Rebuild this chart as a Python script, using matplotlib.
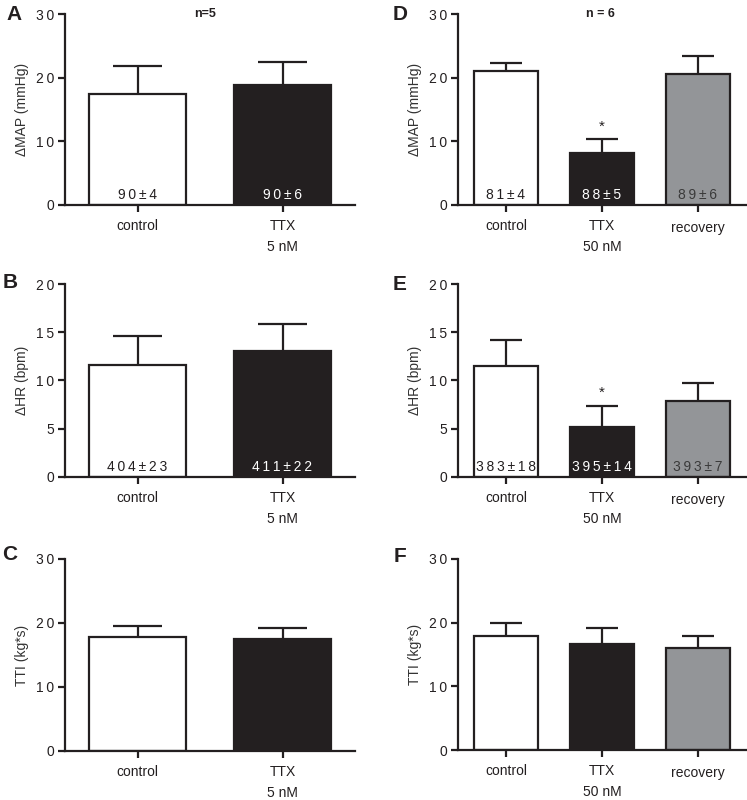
import matplotlib
matplotlib.use("Agg")
import matplotlib.pyplot as plt

plt.rcParams['font.family'] = ['Liberation Sans', 'DejaVu Sans']

INK = '#231f20'
GRAY = '#939598'
TS = '\u2009'

# ---------------- data ----------------
cats_left = ['control', 'TTX\n5 nM']
cats_right = ['control', 'TTX\n50 nM', 'recovery']

map_left = [17.4, 18.9]
map_left_err = [4.5, 3.6]
map_left_txt = ['90±4', '90±6']

map_right = [21.1, 8.2, 20.6]
map_right_err = [1.25, 2.2, 2.85]
map_right_txt = ['81±4', '88±5', '89±6']

hr_left = [11.6, 13.1]
hr_left_err = [3.05, 2.8]
hr_left_txt = ['404±23', '411±22']

hr_right = [11.5, 5.2, 7.85]
hr_right_err = [2.7, 2.2, 1.85]
hr_right_txt = ['383±18', '395±14', '393±7']

tti_left = [17.8, 17.45]
tti_left_err = [1.8, 1.75]

tti_right = [17.85, 16.7, 16.05]
tti_right_err = [2.05, 2.5, 1.85]

map_ticks = [0, 10, 20, 30]
hr_ticks = [0, 5, 10, 15, 20]
tti_ticks = [0, 10, 20, 30]

sig_right = [False, True, False]

fill_left = ['white', INK]
fill_right = ['white', INK, GRAY]
txt_col_left = [INK, 'white']
txt_col_right = [INK, 'white', '#3a3a3a']

# ---------------- figure ----------------
W, H = 747, 800
fig = plt.figure(figsize=(W / 100, H / 100), dpi=100)


def px_axes(x0, x1, ytop, ybot):
    return fig.add_axes([x0 / W, 1 - ybot / H, (x1 - x0) / W, (ybot - ytop) / H])


def spaced(s):
    return TS.join(list(s))


def panel(ax, cats, vals, errs, fills, ticks, ylabel, inner=None, inner_col=None, sig=None):
    n = len(cats)
    xs = list(range(n))
    bw = 0.67
    ax.bar(xs, vals, width=bw, color=fills, edgecolor=INK, linewidth=1.6, zorder=2)
    ax.vlines(xs, vals, [v + e for v, e in zip(vals, errs)], color=INK, linewidth=1.6, zorder=1)
    ax.hlines([v + e for v, e in zip(vals, errs)], [x - bw / 4 for x in xs], [x + bw / 4 for x in xs],
              color=INK, linewidth=1.6, zorder=1)
    ax.set_xlim(-0.5, n - 0.5)
    ax.set_ylim(0, ticks[-1])
    ax.set_yticks(ticks)
    ax.set_yticklabels([spaced(str(t)) for t in ticks])
    ax.set_xticks(xs)
    # 'recovery' sits a little lower in the reference: drawn separately
    ax.set_xticklabels(['' if c == 'recovery' else c for c in cats], linespacing=1.65)
    for x, c in zip(xs, cats):
        if c == 'recovery':
            ax.annotate(c, xy=(x, 0), xytext=(0, -11.5), textcoords='offset points',
                        ha='center', va='top', fontsize=10, color=INK, annotation_clip=False)
    for s in ['top', 'right']:
        ax.spines[s].set_visible(False)
    for s in ['left', 'bottom']:
        ax.spines[s].set_linewidth(1.6)
        ax.spines[s].set_color(INK)
    ax.tick_params(axis='both', length=5, width=1.6, color=INK, labelcolor=INK, labelsize=10)
    ax.tick_params(axis='y', pad=3)
    ax.tick_params(axis='x', pad=5)
    ax.set_ylabel(ylabel, fontsize=10, color='#333333', labelpad=5)
    if inner:
        for x, t, c in zip(xs, inner, inner_col):
            ax.annotate(spaced(t), xy=(x, 0), xytext=(0, 2), textcoords='offset points',
                        ha='center', va='bottom', fontsize=10, color=c, zorder=3)
    if sig:
        for x, v, e, s in zip(xs, vals, errs, sig):
            if s:
                ax.annotate('*', xy=(x, v + e), xytext=(0, 9), textcoords='offset points',
                            ha='center', va='center', fontsize=11, color=INK)


axA = px_axes(65, 355, 14, 205)
axB = px_axes(65, 355, 284, 477)
axC = px_axes(65, 355, 559, 751)
axD = px_axes(458, 746, 14, 205)
axE = px_axes(458, 746, 284, 477)
axF = px_axes(458, 746, 559, 750)

panel(axA, cats_left, map_left, map_left_err, fill_left, map_ticks, 'ΔMAP (mmHg)', map_left_txt, txt_col_left)
panel(axB, cats_left, hr_left, hr_left_err, fill_left, hr_ticks, 'ΔHR (bpm)', hr_left_txt, txt_col_left)
panel(axC, cats_left, tti_left, tti_left_err, fill_left, tti_ticks, 'TTI (kg*s)')
panel(axD, cats_right, map_right, map_right_err, fill_right, map_ticks, 'ΔMAP (mmHg)', map_right_txt, txt_col_right, sig_right)
panel(axE, cats_right, hr_right, hr_right_err, fill_right, hr_ticks, 'ΔHR (bpm)', hr_right_txt, txt_col_right, sig_right)
panel(axF, cats_right, tti_right, tti_right_err, fill_right, tti_ticks, 'TTI (kg*s)')

letters = [('A', 14, 15), ('B', 10, 283), ('C', 10, 555), ('D', 400, 15), ('E', 400, 284), ('F', 400, 557)]
for l, x, y in letters:
    fig.text(x / W, 1 - y / H, l, fontsize=15, fontweight='bold', ha='center', va='center', color=INK)

fig.text(205 / W, 1 - 14 / H, 'n=5', fontsize=9, fontweight='bold', ha='center', va='center', color=INK)
fig.text(600 / W, 1 - 14 / H, 'n = 6', fontsize=9, fontweight='bold', ha='center', va='center', color=INK)

fig.savefig('out.png', dpi=100)
